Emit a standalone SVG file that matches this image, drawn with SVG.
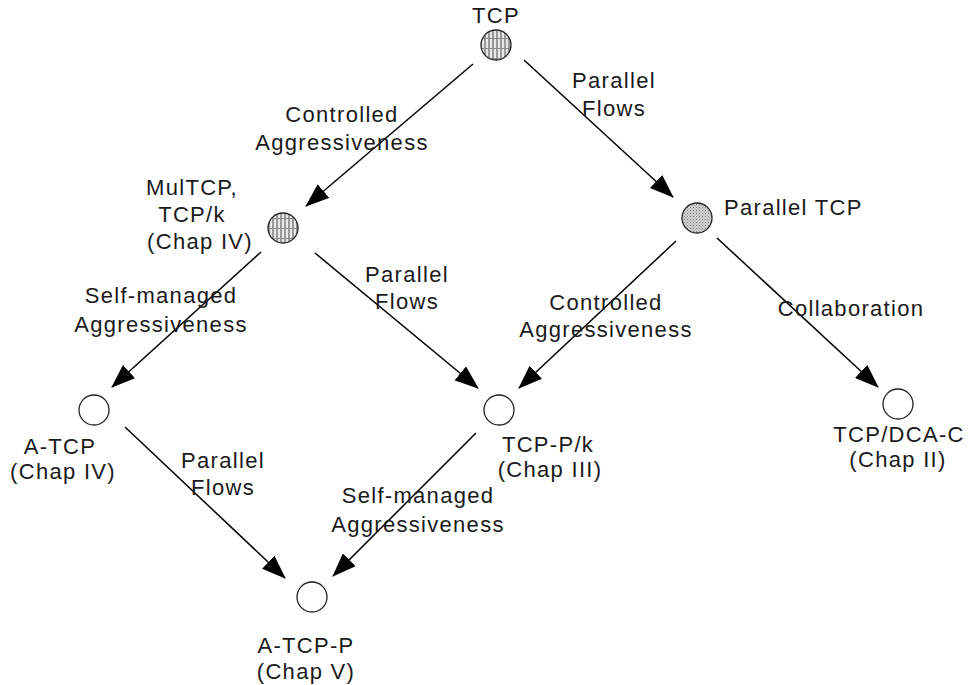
<svg xmlns="http://www.w3.org/2000/svg" width="972" height="685" viewBox="0 0 972 685">
  <style>
    text { font-family: "Liberation Sans", Arial, sans-serif; font-size: 22px; letter-spacing: 1.3px; fill: #1a1a1a; }
    .mid { text-anchor: middle; }
    .node { stroke: #222; stroke-width: 1.3; }
    .open { fill: #fff; }
    .edge { stroke: #000; stroke-width: 1.5; fill: none; marker-end: url(#arrow); }
  </style>
  <defs>
    <marker id="arrow" markerUnits="userSpaceOnUse" markerWidth="24" markerHeight="18" viewBox="0 0 24 18" refX="23" refY="9" orient="auto">
      <path d="M0,0 L24,9 L0,18 Z" fill="#000"/>
    </marker>
    <!-- vertical stripes with cross bands -->
    <pattern id="hatch" patternUnits="userSpaceOnUse" width="4" height="10">
      <rect width="4" height="10" fill="#e8e8e8"/>
      <rect x="0" width="2" height="10" fill="#9a9a9a"/>
      <rect y="8" width="4" height="1" fill="#8a8a8a"/>
    </pattern>
    <!-- stippled fill -->
    <pattern id="stipple" patternUnits="userSpaceOnUse" width="3" height="3">
      <rect width="3" height="3" fill="#d4d4d4"/>
      <rect x="0" y="0" width="1" height="1" fill="#777"/>
      <rect x="1.5" y="1.5" width="1" height="1" fill="#888"/>
    </pattern>
  </defs>

  <g id="connectors">
    <line class="edge" x1="473" y1="64" x2="306" y2="206"/>
    <line class="edge" x1="524" y1="60" x2="673" y2="197"/>
    <line class="edge" x1="261" y1="252" x2="112" y2="387"/>
    <line class="edge" x1="315" y1="253" x2="478" y2="388"/>
    <line class="edge" x1="676" y1="241" x2="519" y2="388"/>
    <line class="edge" x1="717" y1="238" x2="878" y2="387"/>
    <line class="edge" x1="125" y1="427" x2="285" y2="578"/>
    <line class="edge" x1="476" y1="433" x2="333" y2="576"/>
  </g>

  <g id="edge-labels">
    <text class="mid" x="342" y="122">Controlled</text>
    <text class="mid" x="342" y="150">Aggressiveness</text>
    <text class="mid" x="614" y="88">Parallel</text>
    <text class="mid" x="614" y="116">Flows</text>
    <text class="mid" x="161" y="303">Self-managed</text>
    <text class="mid" x="161" y="332">Aggressiveness</text>
    <text class="mid" x="407" y="282">Parallel</text>
    <text class="mid" x="407" y="309">Flows</text>
    <text class="mid" x="606" y="310">Controlled</text>
    <text class="mid" x="606" y="337">Aggressiveness</text>
    <text class="mid" x="851" y="316">Collaboration</text>
    <text class="mid" x="223" y="468">Parallel</text>
    <text class="mid" x="223" y="495">Flows</text>
    <text class="mid" x="418" y="503">Self-managed</text>
    <text class="mid" x="418" y="532">Aggressiveness</text>
  </g>

  <g id="node-tcp">
    <circle class="node" cx="496" cy="45" r="15" fill="url(#hatch)"/>
    <text class="mid" x="496" y="23">TCP</text>
  </g>

  <g id="node-multcp">
    <circle class="node" cx="283" cy="228" r="15" fill="url(#hatch)"/>
    <text class="mid" x="192" y="195">MulTCP,</text>
    <text class="mid" x="192" y="222">TCP/k</text>
    <text class="mid" x="200" y="249">(Chap IV)</text>
  </g>

  <g id="node-parallel-tcp">
    <circle class="node" cx="697" cy="218" r="15" fill="url(#stipple)"/>
    <text x="724" y="215">Parallel TCP</text>
  </g>

  <g id="node-a-tcp">
    <circle class="node open" cx="94" cy="410" r="15"/>
    <text class="mid" x="60" y="454">A-TCP</text>
    <text class="mid" x="63" y="479">(Chap IV)</text>
  </g>

  <g id="node-tcp-p-k">
    <circle class="node open" cx="499" cy="410" r="15"/>
    <text class="mid" x="548" y="452">TCP-P/k</text>
    <text class="mid" x="550" y="477">(Chap III)</text>
  </g>

  <g id="node-tcp-dca-c">
    <circle class="node open" cx="898" cy="404" r="15"/>
    <text class="mid" x="899" y="442">TCP/DCA-C</text>
    <text class="mid" x="898" y="467">(Chap II)</text>
  </g>

  <g id="node-a-tcp-p">
    <circle class="node open" cx="312" cy="597" r="15"/>
    <text class="mid" x="306" y="653">A-TCP-P</text>
    <text class="mid" x="306" y="679">(Chap V)</text>
  </g>
</svg>
